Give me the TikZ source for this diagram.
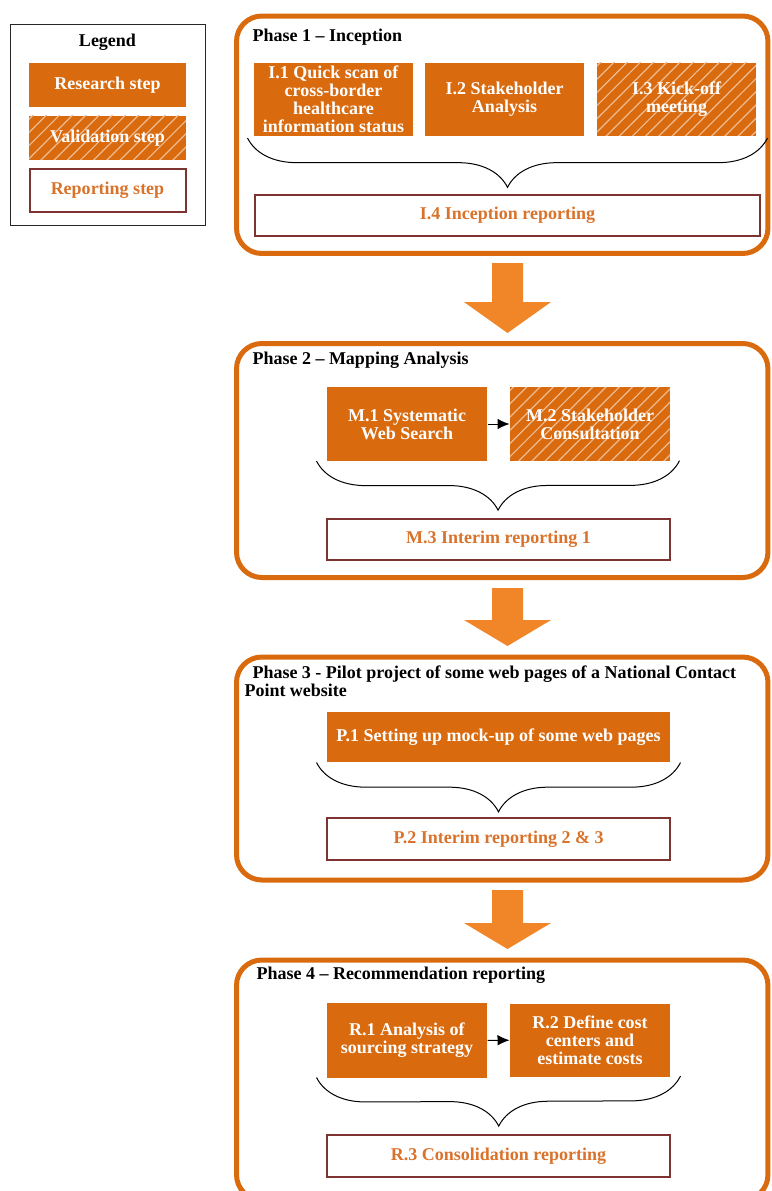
\documentclass[tikz,border=0pt]{standalone}
\usepackage{fontspec}
\setmainfont{Liberation Serif}
\usetikzlibrary{positioning,patterns.meta,decorations.pathreplacing,arrows.meta}

\definecolor{orfill}{RGB}{217,106,14}
\definecolor{arrowfill}{RGB}{240,134,40}
\definecolor{repborder}{RGB}{125,52,48}
\definecolor{reptext}{RGB}{217,114,42}
\colorlet{hatch}{orfill!45!white}

\tikzset{every picture/.style={line width=0.75pt}}
\tikzset{
  boxtext/.style={font=\bfseries\fontsize{13.5}{13.5}\selectfont, align=center, inner sep=0pt},
  stepbox/.style={boxtext, fill=orfill, text=white},
  valbox/.style={boxtext, text=white, preaction={fill=orfill},
    pattern={Lines[angle=45,distance=7pt,line width=0.9pt]}, pattern color=hatch},
  repbox/.style={boxtext, draw=repborder, line width=1.5pt, text=reptext},
  phaseframe/.style={draw=orfill, line width=3.75pt, rounded corners=19pt, inner sep=0pt},
  phasetitle/.style={font=\bfseries\fontsize{13.5}{13.5}\selectfont, inner sep=0pt, align=left},
  bracefoot/.style={decorate, decoration={brace, amplitude=37pt}},
  pics/downarrow/.style 2 args={code={
    \fill[arrowfill] (-15.5,0) -- (15.5,0) -- (15.5,-#1) -- (43.5,-#1) -- (0,-#1-#2) -- (-43.5,-#1) -- (-15.5,-#1) -- cycle;
  }}
}

\begin{document}
\begin{tikzpicture}[x=0.75pt,y=0.75pt,yscale=-1,xscale=1]
        \useasboundingbox (0,0) rectangle (771,1191);

        %Legend
        \node [draw=black!85, minimum width=146.25pt, minimum height=150.75pt, inner sep=0pt] (legend) at (107.5,125.5) {};
        \node [phasetitle] (legtitle) at (107.5,42) {Legend};
        \node [stepbox, minimum width=117.75pt, minimum height=33pt] (legres) at (107.5,85) {Research step};
        \node [valbox, minimum width=117.75pt, minimum height=33pt] (legval) at (107.5,138) {Validation step};
        \node [repbox, minimum width=117pt, minimum height=32.25pt] (legrep) at (107.5,190.5) {Reporting step};

        %Rounded Rect: phase frames
        \node [phaseframe, minimum width=398.6pt, minimum height=178.1pt] (phase1) at (502.25,134.75) {};
        \node [phaseframe, minimum width=398.6pt, minimum height=175.5pt] (phase2) at (502.25,460.5) {};
        \node [phaseframe, minimum width=398.6pt, minimum height=167.25pt] (phase3) at (502.25,768.5) {};
        \node [phaseframe, minimum width=398.6pt, minimum height=180pt] (phase4) at (502.25,1080) {};

        %Phase 1
        \node [phasetitle, anchor=west] (title1) at (252,37) {Phase 1 -- Inception};
        \node [stepbox, minimum width=119.25pt, minimum height=54.75pt] (i1) at (333.5,99.5) {I.1 Quick scan of\\cross-border\\healthcare\\information status};
        \node [stepbox, minimum width=119.25pt, minimum height=54.75pt] (i2) at (504.5,99.5) {I.2 Stakeholder\\Analysis};
        \node [valbox, minimum width=119.25pt, minimum height=54.75pt] (i3) at (676.5,99.5) {I.3 Kick-off\\meeting};
        \draw [bracefoot] ([shift={(11,1.5)}]i3.south east) -- ([shift={(-6,1.5)}]i1.south west);
        \node [repbox, minimum width=378.75pt, minimum height=30.75pt] (i4) at (507.5,215.5) {I.4 Inception reporting};

        %Block Arrow
        \pic at (507.5,263) {downarrow={39}{31}};

        %Phase 2
        \node [phasetitle, anchor=west] (title2) at (252,360) {Phase 2 -- Mapping Analysis};
        \node [stepbox, minimum width=120pt, minimum height=55.5pt] (m1) at (407,424) {M.1 Systematic\\Web Search};
        \node [valbox, minimum width=120pt, minimum height=55pt] (m2) at (590,424) {M.2 Stakeholder\\Consultation};
        \draw [-{Latex[length=9pt,width=8pt]}] (m1) -- (m2);
        \draw [bracefoot] ([shift={(9,-0.5)}]m2.south east) -- ([shift={(-10,-0.5)}]m1.south west);
        \node [repbox, minimum width=257.25pt, minimum height=30.75pt] (m3) at (498.5,539.5) {M.3 Interim reporting 1};

        %Block Arrow
        \pic at (507.5,588) {downarrow={32}{26}};

        %Phase 3
        \node [phasetitle, anchor=north west] (title3) at (244,665) {\hspace*{6pt}Phase 3 - Pilot project of some web pages of a National Contact\\Point website};
        \node [stepbox, minimum width=257.25pt, minimum height=37.5pt] (p1) at (498.5,737) {P.1 Setting up mock-up of some web pages};
        \draw [bracefoot] ([shift={(10,0)}]p1.south east) -- ([shift={(-10,0)}]p1.south west);
        \node [repbox, minimum width=257.25pt, minimum height=31.5pt] (p2) at (498.5,839) {P.2 Interim reporting 2 \& 3};

        %Block Arrow
        \pic at (507.5,890) {downarrow={33}{26}};

        %Phase 4
        \node [phasetitle, anchor=west] (title4) at (256,975) {Phase 4 -- Recommendation reporting};
        \node [stepbox, minimum width=120pt, minimum height=56.25pt] (r1) at (407,1040.5) {R.1 Analysis of\\sourcing strategy};
        \node [stepbox, minimum width=120pt, minimum height=54.75pt] (r2) at (590,1040) {R.2 Define cost\\centers and\\estimate costs};
        \draw [-{Latex[length=9pt,width=8pt]}] (r1) -- (r2);
        \draw [bracefoot] ([shift={(10,-1)}]r2.south east) -- ([shift={(-10,-1)}]r1.south west);
        \node [repbox, minimum width=257.25pt, minimum height=31.5pt] (r3) at (498.5,1156) {R.3 Consolidation reporting};
\end{tikzpicture}
\end{document}
